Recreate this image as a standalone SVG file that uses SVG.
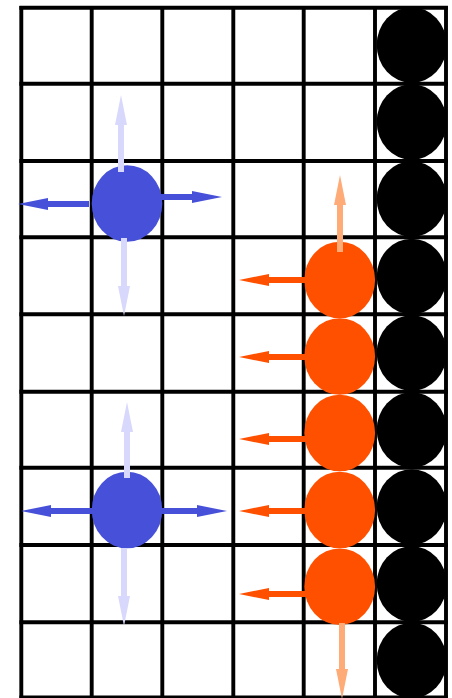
<svg xmlns="http://www.w3.org/2000/svg" width="452" height="698" viewBox="0 0 452 698">
<style>
.grid line{stroke:#000;stroke-width:3.9}
.blk{fill:#000}
.blu{fill:#4650d8}
.org{fill:#ff5000}
.a-blu{stroke:#4650d8;stroke-width:6}
.a-lav{stroke:#d8d8fc;stroke-width:6}
.a-org{stroke:#ff5000;stroke-width:6}
.a-lor{stroke:#ffab78;stroke-width:6}
</style>
<defs>
<marker id="hb" markerUnits="userSpaceOnUse" viewBox="0 0 30 12" refX="0" refY="6" markerWidth="30" markerHeight="12" orient="auto"><path d="M0,0 L30,6 L0,12 z" fill="#4650d8"/></marker>
<marker id="hl" markerUnits="userSpaceOnUse" viewBox="0 0 30 12" refX="0" refY="6" markerWidth="30" markerHeight="12" orient="auto"><path d="M0,0 L30,6 L0,12 z" fill="#d8d8fc"/></marker>
<marker id="ho" markerUnits="userSpaceOnUse" viewBox="0 0 30 12" refX="0" refY="6" markerWidth="30" markerHeight="12" orient="auto"><path d="M0,0 L30,6 L0,12 z" fill="#ff5000"/></marker>
<marker id="hlo" markerUnits="userSpaceOnUse" viewBox="0 0 30 12" refX="0" refY="6" markerWidth="30" markerHeight="12" orient="auto"><path d="M0,0 L30,6 L0,12 z" fill="#ffab78"/></marker>
</defs>
<rect width="452" height="698" fill="#fff"/>
<g class="grid">
<line x1="21.3" y1="6" x2="21.3" y2="698"/>
<line x1="91.7" y1="6" x2="91.7" y2="698"/>
<line x1="162.3" y1="6" x2="162.3" y2="698"/>
<line x1="233.3" y1="6" x2="233.3" y2="698"/>
<line x1="303.7" y1="6" x2="303.7" y2="698"/>
<line x1="375" y1="6" x2="375" y2="698"/>
<line x1="446" y1="6" x2="446" y2="698"/>
<line x1="19.4" y1="7.7" x2="447.9" y2="7.7"/>
<line x1="19.4" y1="83.7" x2="447.9" y2="83.7"/>
<line x1="19.4" y1="161" x2="447.9" y2="161"/>
<line x1="19.4" y1="237.3" x2="447.9" y2="237.3"/>
<line x1="19.4" y1="314.3" x2="447.9" y2="314.3"/>
<line x1="19.4" y1="391.7" x2="447.9" y2="391.7"/>
<line x1="19.4" y1="467.7" x2="447.9" y2="467.7"/>
<line x1="19.4" y1="545" x2="447.9" y2="545"/>
<line x1="19.4" y1="622.3" x2="447.9" y2="622.3"/>
<line x1="19.4" y1="697.5" x2="447.9" y2="697.5"/>
</g>
<g id="black-stones">
<g id="k1"><ellipse class="blk" cx="411.7" cy="45" rx="35" ry="37.8"/></g>
<g id="k2"><ellipse class="blk" cx="411.7" cy="122" rx="35" ry="37.8"/></g>
<g id="k3"><ellipse class="blk" cx="411.7" cy="199" rx="35" ry="37.8"/></g>
<g id="k4"><ellipse class="blk" cx="411.7" cy="276.5" rx="35" ry="37.8"/></g>
<g id="k5"><ellipse class="blk" cx="411.7" cy="353" rx="35" ry="37.8"/></g>
<g id="k6"><ellipse class="blk" cx="411.7" cy="430" rx="35" ry="37.8"/></g>
<g id="k7"><ellipse class="blk" cx="411.7" cy="507" rx="35" ry="37.8"/></g>
<g id="k8"><ellipse class="blk" cx="411.7" cy="584" rx="35" ry="37.8"/></g>
<g id="k9"><ellipse class="blk" cx="411.7" cy="660.5" rx="35" ry="37.8"/></g>
</g>
<g id="blue1"><ellipse class="blu" cx="127" cy="203.5" rx="35.3" ry="38.3"/></g>
<g id="blue2"><ellipse class="blu" cx="127" cy="510" rx="35.3" ry="38.3"/></g>
<g id="orange1"><ellipse class="org" cx="339.7" cy="280" rx="35.4" ry="38.3"/></g>
<g id="orange2"><ellipse class="org" cx="339.7" cy="356.5" rx="35.4" ry="38.3"/></g>
<g id="orange3"><ellipse class="org" cx="339.7" cy="433" rx="35.4" ry="38.3"/></g>
<g id="orange4"><ellipse class="org" cx="339.7" cy="510" rx="35.4" ry="38.3"/></g>
<g id="orange5"><ellipse class="org" cx="339.7" cy="586.7" rx="35.4" ry="38.3"/></g>
<g id="connectors">
<line class="a-blu" x1="89" y1="204" x2="48" y2="204" marker-end="url(#hb)"/>
<line class="a-blu" x1="160" y1="197" x2="192" y2="197" marker-end="url(#hb)"/>
<line class="a-lav" x1="121" y1="172" x2="121" y2="125" marker-end="url(#hl)"/>
<line class="a-lav" x1="124" y1="238" x2="124" y2="286" marker-end="url(#hl)"/>
<line class="a-blu" x1="93" y1="511" x2="51" y2="511" marker-end="url(#hb)"/>
<line class="a-blu" x1="160" y1="511" x2="197" y2="511" marker-end="url(#hb)"/>
<line class="a-lav" x1="127" y1="478" x2="127" y2="432" marker-end="url(#hl)"/>
<line class="a-lav" x1="124" y1="548" x2="124" y2="596" marker-end="url(#hl)"/>
<line class="a-lor" x1="340" y1="252" x2="340" y2="205" marker-end="url(#hlo)"/>
<line class="a-org" x1="306" y1="280" x2="269" y2="280" marker-end="url(#ho)"/>
<line class="a-org" x1="306" y1="357" x2="269" y2="357" marker-end="url(#ho)"/>
<line class="a-org" x1="306" y1="439" x2="269" y2="439" marker-end="url(#ho)"/>
<line class="a-org" x1="306" y1="511" x2="269" y2="511" marker-end="url(#ho)"/>
<line class="a-org" x1="306" y1="594" x2="269" y2="594" marker-end="url(#ho)"/>
<line class="a-lor" x1="342" y1="623" x2="342" y2="669" marker-end="url(#hlo)"/>
</g>
</svg>
